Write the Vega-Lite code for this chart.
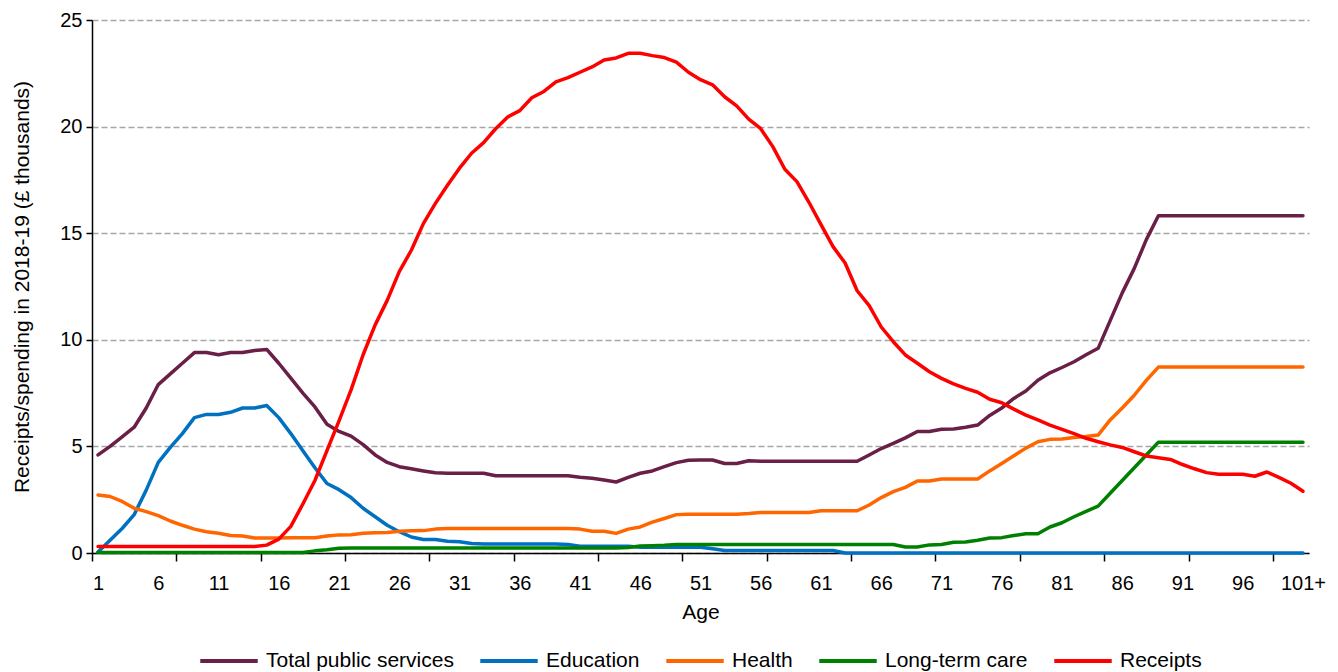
{
  "$schema": "https://vega.github.io/schema/vega-lite/v6.json",
  "width": 1217,
  "height": 533,
  "autosize": {"type": "none"},
  "padding": {"left": 92, "top": 20, "right": 29, "bottom": 119},
  "background": "white",
  "config": {
    "font": "Liberation Sans",
    "view": {"stroke": null},
    "axis": {"labelColor": "black", "titleColor": "black", "titleFontWeight": "normal", "domainColor": "black", "tickColor": "black"}
  },
  "data": {"values": [
    {"age":1,"Total public services":4.6,"Education":0.05,"Health":2.72,"Long-term care":0.02,"Receipts":0.3},
    {"age":2,"Total public services":5.0,"Education":0.6,"Health":2.65,"Long-term care":0.02,"Receipts":0.3},
    {"age":3,"Total public services":5.45,"Education":1.15,"Health":2.42,"Long-term care":0.02,"Receipts":0.3},
    {"age":4,"Total public services":5.9,"Education":1.8,"Health":2.1,"Long-term care":0.02,"Receipts":0.3},
    {"age":5,"Total public services":6.8,"Education":2.95,"Health":1.94,"Long-term care":0.02,"Receipts":0.3},
    {"age":6,"Total public services":7.9,"Education":4.25,"Health":1.75,"Long-term care":0.02,"Receipts":0.3},
    {"age":7,"Total public services":8.4,"Education":4.95,"Health":1.5,"Long-term care":0.02,"Receipts":0.3},
    {"age":8,"Total public services":8.9,"Education":5.6,"Health":1.3,"Long-term care":0.02,"Receipts":0.3},
    {"age":9,"Total public services":9.4,"Education":6.35,"Health":1.12,"Long-term care":0.02,"Receipts":0.3},
    {"age":10,"Total public services":9.4,"Education":6.5,"Health":1.0,"Long-term care":0.02,"Receipts":0.3},
    {"age":11,"Total public services":9.3,"Education":6.5,"Health":0.93,"Long-term care":0.02,"Receipts":0.3},
    {"age":12,"Total public services":9.4,"Education":6.6,"Health":0.82,"Long-term care":0.02,"Receipts":0.3},
    {"age":13,"Total public services":9.4,"Education":6.8,"Health":0.8,"Long-term care":0.02,"Receipts":0.3},
    {"age":14,"Total public services":9.5,"Education":6.8,"Health":0.7,"Long-term care":0.02,"Receipts":0.3},
    {"age":15,"Total public services":9.55,"Education":6.92,"Health":0.7,"Long-term care":0.02,"Receipts":0.37},
    {"age":16,"Total public services":8.9,"Education":6.35,"Health":0.7,"Long-term care":0.02,"Receipts":0.65},
    {"age":17,"Total public services":8.2,"Education":5.6,"Health":0.72,"Long-term care":0.02,"Receipts":1.25},
    {"age":18,"Total public services":7.5,"Education":4.8,"Health":0.72,"Long-term care":0.02,"Receipts":2.3},
    {"age":19,"Total public services":6.85,"Education":4.0,"Health":0.72,"Long-term care":0.1,"Receipts":3.4},
    {"age":20,"Total public services":6.04,"Education":3.26,"Health":0.8,"Long-term care":0.15,"Receipts":4.8},
    {"age":21,"Total public services":5.7,"Education":2.97,"Health":0.85,"Long-term care":0.22,"Receipts":6.2},
    {"age":22,"Total public services":5.48,"Education":2.6,"Health":0.86,"Long-term care":0.24,"Receipts":7.65},
    {"age":23,"Total public services":5.08,"Education":2.1,"Health":0.93,"Long-term care":0.24,"Receipts":9.3},
    {"age":24,"Total public services":4.6,"Education":1.7,"Health":0.95,"Long-term care":0.24,"Receipts":10.7},
    {"age":25,"Total public services":4.25,"Education":1.3,"Health":0.96,"Long-term care":0.24,"Receipts":11.85},
    {"age":26,"Total public services":4.05,"Education":1.0,"Health":1.02,"Long-term care":0.24,"Receipts":13.2},
    {"age":27,"Total public services":3.95,"Education":0.75,"Health":1.04,"Long-term care":0.24,"Receipts":14.2},
    {"age":28,"Total public services":3.85,"Education":0.63,"Health":1.05,"Long-term care":0.24,"Receipts":15.45},
    {"age":29,"Total public services":3.76,"Education":0.63,"Health":1.12,"Long-term care":0.24,"Receipts":16.4},
    {"age":30,"Total public services":3.74,"Education":0.55,"Health":1.15,"Long-term care":0.24,"Receipts":17.25},
    {"age":31,"Total public services":3.74,"Education":0.53,"Health":1.15,"Long-term care":0.24,"Receipts":18.05},
    {"age":32,"Total public services":3.74,"Education":0.45,"Health":1.15,"Long-term care":0.24,"Receipts":18.75},
    {"age":33,"Total public services":3.74,"Education":0.42,"Health":1.15,"Long-term care":0.24,"Receipts":19.25},
    {"age":34,"Total public services":3.62,"Education":0.42,"Health":1.15,"Long-term care":0.24,"Receipts":19.9},
    {"age":35,"Total public services":3.62,"Education":0.42,"Health":1.15,"Long-term care":0.24,"Receipts":20.45},
    {"age":36,"Total public services":3.62,"Education":0.42,"Health":1.15,"Long-term care":0.24,"Receipts":20.75},
    {"age":37,"Total public services":3.62,"Education":0.42,"Health":1.15,"Long-term care":0.24,"Receipts":21.35},
    {"age":38,"Total public services":3.62,"Education":0.42,"Health":1.15,"Long-term care":0.24,"Receipts":21.65},
    {"age":39,"Total public services":3.62,"Education":0.42,"Health":1.15,"Long-term care":0.24,"Receipts":22.1},
    {"age":40,"Total public services":3.62,"Education":0.4,"Health":1.15,"Long-term care":0.24,"Receipts":22.3},
    {"age":41,"Total public services":3.55,"Education":0.32,"Health":1.12,"Long-term care":0.24,"Receipts":22.55},
    {"age":42,"Total public services":3.51,"Education":0.32,"Health":1.02,"Long-term care":0.24,"Receipts":22.8},
    {"age":43,"Total public services":3.42,"Education":0.32,"Health":1.02,"Long-term care":0.24,"Receipts":23.12},
    {"age":44,"Total public services":3.33,"Education":0.32,"Health":0.92,"Long-term care":0.24,"Receipts":23.22},
    {"age":45,"Total public services":3.55,"Education":0.32,"Health":1.12,"Long-term care":0.26,"Receipts":23.44},
    {"age":46,"Total public services":3.74,"Education":0.27,"Health":1.22,"Long-term care":0.33,"Receipts":23.44},
    {"age":47,"Total public services":3.85,"Education":0.27,"Health":1.45,"Long-term care":0.34,"Receipts":23.33},
    {"age":48,"Total public services":4.05,"Education":0.27,"Health":1.62,"Long-term care":0.36,"Receipts":23.24},
    {"age":49,"Total public services":4.24,"Education":0.27,"Health":1.8,"Long-term care":0.4,"Receipts":23.02},
    {"age":50,"Total public services":4.35,"Education":0.27,"Health":1.82,"Long-term care":0.4,"Receipts":22.55},
    {"age":51,"Total public services":4.36,"Education":0.27,"Health":1.82,"Long-term care":0.4,"Receipts":22.2},
    {"age":52,"Total public services":4.36,"Education":0.2,"Health":1.82,"Long-term care":0.4,"Receipts":21.96},
    {"age":53,"Total public services":4.2,"Education":0.12,"Health":1.82,"Long-term care":0.4,"Receipts":21.4},
    {"age":54,"Total public services":4.2,"Education":0.12,"Health":1.82,"Long-term care":0.4,"Receipts":20.97},
    {"age":55,"Total public services":4.33,"Education":0.12,"Health":1.85,"Long-term care":0.4,"Receipts":20.35},
    {"age":56,"Total public services":4.3,"Education":0.12,"Health":1.9,"Long-term care":0.4,"Receipts":19.9},
    {"age":57,"Total public services":4.3,"Education":0.12,"Health":1.9,"Long-term care":0.4,"Receipts":19.06},
    {"age":58,"Total public services":4.3,"Education":0.12,"Health":1.9,"Long-term care":0.4,"Receipts":18.0},
    {"age":59,"Total public services":4.3,"Education":0.12,"Health":1.9,"Long-term care":0.4,"Receipts":17.42},
    {"age":60,"Total public services":4.3,"Education":0.12,"Health":1.9,"Long-term care":0.4,"Receipts":16.45},
    {"age":61,"Total public services":4.3,"Education":0.12,"Health":1.98,"Long-term care":0.4,"Receipts":15.4},
    {"age":62,"Total public services":4.3,"Education":0.12,"Health":1.98,"Long-term care":0.4,"Receipts":14.37},
    {"age":63,"Total public services":4.3,"Education":0.0,"Health":1.98,"Long-term care":0.4,"Receipts":13.6},
    {"age":64,"Total public services":4.3,"Education":0.0,"Health":1.98,"Long-term care":0.4,"Receipts":12.3},
    {"age":65,"Total public services":4.6,"Education":0.0,"Health":2.25,"Long-term care":0.4,"Receipts":11.6},
    {"age":66,"Total public services":4.9,"Education":0.0,"Health":2.6,"Long-term care":0.4,"Receipts":10.6},
    {"age":67,"Total public services":5.14,"Education":0.0,"Health":2.88,"Long-term care":0.4,"Receipts":9.91},
    {"age":68,"Total public services":5.4,"Education":0.0,"Health":3.08,"Long-term care":0.28,"Receipts":9.29},
    {"age":69,"Total public services":5.7,"Education":0.0,"Health":3.38,"Long-term care":0.28,"Receipts":8.9},
    {"age":70,"Total public services":5.7,"Education":0.0,"Health":3.38,"Long-term care":0.38,"Receipts":8.5},
    {"age":71,"Total public services":5.8,"Education":0.0,"Health":3.47,"Long-term care":0.4,"Receipts":8.19},
    {"age":72,"Total public services":5.82,"Education":0.0,"Health":3.47,"Long-term care":0.5,"Receipts":7.93},
    {"age":73,"Total public services":5.9,"Education":0.0,"Health":3.47,"Long-term care":0.52,"Receipts":7.72},
    {"age":74,"Total public services":6.0,"Education":0.0,"Health":3.47,"Long-term care":0.6,"Receipts":7.54},
    {"age":75,"Total public services":6.45,"Education":0.0,"Health":3.85,"Long-term care":0.7,"Receipts":7.21},
    {"age":76,"Total public services":6.8,"Education":0.0,"Health":4.2,"Long-term care":0.72,"Receipts":7.05},
    {"age":77,"Total public services":7.25,"Education":0.0,"Health":4.56,"Long-term care":0.82,"Receipts":6.75},
    {"age":78,"Total public services":7.6,"Education":0.0,"Health":4.92,"Long-term care":0.9,"Receipts":6.47},
    {"age":79,"Total public services":8.1,"Education":0.0,"Health":5.22,"Long-term care":0.9,"Receipts":6.24},
    {"age":80,"Total public services":8.45,"Education":0.0,"Health":5.33,"Long-term care":1.22,"Receipts":6.0},
    {"age":81,"Total public services":8.7,"Education":0.0,"Health":5.35,"Long-term care":1.42,"Receipts":5.8},
    {"age":82,"Total public services":8.97,"Education":0.0,"Health":5.42,"Long-term care":1.7,"Receipts":5.6},
    {"age":83,"Total public services":9.3,"Education":0.0,"Health":5.46,"Long-term care":1.95,"Receipts":5.38},
    {"age":84,"Total public services":9.6,"Education":0.0,"Health":5.53,"Long-term care":2.2,"Receipts":5.22},
    {"age":85,"Total public services":10.9,"Education":0.0,"Health":6.24,"Long-term care":2.8,"Receipts":5.07},
    {"age":86,"Total public services":12.2,"Education":0.0,"Health":6.8,"Long-term care":3.4,"Receipts":4.95},
    {"age":87,"Total public services":13.35,"Education":0.0,"Health":7.4,"Long-term care":4.0,"Receipts":4.75},
    {"age":88,"Total public services":14.7,"Education":0.0,"Health":8.1,"Long-term care":4.6,"Receipts":4.55},
    {"age":89,"Total public services":15.82,"Education":0.0,"Health":8.72,"Long-term care":5.2,"Receipts":4.47},
    {"age":90,"Total public services":15.82,"Education":0.0,"Health":8.72,"Long-term care":5.2,"Receipts":4.39},
    {"age":91,"Total public services":15.82,"Education":0.0,"Health":8.72,"Long-term care":5.2,"Receipts":4.15},
    {"age":92,"Total public services":15.82,"Education":0.0,"Health":8.72,"Long-term care":5.2,"Receipts":3.95},
    {"age":93,"Total public services":15.82,"Education":0.0,"Health":8.72,"Long-term care":5.2,"Receipts":3.77},
    {"age":94,"Total public services":15.82,"Education":0.0,"Health":8.72,"Long-term care":5.2,"Receipts":3.69},
    {"age":95,"Total public services":15.82,"Education":0.0,"Health":8.72,"Long-term care":5.2,"Receipts":3.69},
    {"age":96,"Total public services":15.82,"Education":0.0,"Health":8.72,"Long-term care":5.2,"Receipts":3.69},
    {"age":97,"Total public services":15.82,"Education":0.0,"Health":8.72,"Long-term care":5.2,"Receipts":3.6},
    {"age":98,"Total public services":15.82,"Education":0.0,"Health":8.72,"Long-term care":5.2,"Receipts":3.8},
    {"age":99,"Total public services":15.82,"Education":0.0,"Health":8.72,"Long-term care":5.2,"Receipts":3.55},
    {"age":100,"Total public services":15.82,"Education":0.0,"Health":8.72,"Long-term care":5.2,"Receipts":3.27},
    {"age":101,"Total public services":15.82,"Education":0.0,"Health":8.72,"Long-term care":5.2,"Receipts":2.9}
  ]},
  "transform": [
    {"fold": ["Total public services", "Education", "Health", "Long-term care", "Receipts"], "as": ["series", "value"]}
  ],
  "layer": [
    {
      "mark": {"type": "line", "strokeWidth": 3.5, "strokeJoin": "round", "strokeCap": "round"},
      "encoding": {
        "x": {
          "field": "age", "type": "quantitative",
          "scale": {"domain": [0.5, 101.5], "nice": false, "zero": false},
          "axis": {
            "orient": "bottom",
            "values": [1, 6, 11, 16, 21, 26, 31, 36, 41, 46, 51, 56, 61, 66, 71, 76, 81, 86, 91, 96, 101],
            "labelExpr": "datum.value == 101 ? '101+' : datum.label",
            "ticks": false, "grid": false,
            "domainWidth": 1.5,
            "labelFontSize": 20, "labelPadding": 20, "labelFlush": false, "labelOverlap": false,
            "title": "Age", "titleFontSize": 21, "titlePadding": 8
          }
        },
        "y": {
          "field": "value", "type": "quantitative",
          "scale": {"domain": [0, 25], "nice": false},
          "axis": {
            "values": [0, 5, 10, 15, 20, 25], "format": "d",
            "grid": true, "gridDash": [6, 3], "gridColor": "#A6A6A6", "gridWidth": 1.3,
            "domainWidth": 1.5, "tickSize": 6, "tickWidth": 1.5,
            "labelFontSize": 20, "labelPadding": 4,
            "title": "Receipts/spending in 2018-19  (£ thousands)", "titleFontSize": 21, "titlePadding": 27
          }
        },
        "color": {
          "field": "series", "type": "nominal",
          "scale": {
            "domain": ["Total public services", "Education", "Health", "Long-term care", "Receipts"],
            "range": ["#6A1F47", "#0070C0", "#FF6600", "#008000", "#FF0000"]
          },
          "legend": {
            "orient": "none", "legendX": 106, "legendY": 610, "direction": "horizontal",
            "title": null, "padding": 0,
            "symbolType": "stroke", "symbolSize": 3300, "symbolStrokeWidth": 4,
            "labelFontSize": 21, "labelColor": "black", "labelOffset": 6, "columnPadding": 18,
            "labelLimit": 400
          }
        }
      }
    },
    {
      "mark": {"type": "line", "opacity": 0},
      "encoding": {
        "x": {
          "field": "age", "type": "quantitative",
          "axis": {
            "orient": "bottom",
            "values": [0.5, 7.5, 14.5, 21.5, 28.5, 35.5, 42.5, 49.5, 56.5, 63.5, 70.5, 77.5, 84.5, 91.5, 98.5],
            "labels": false, "title": null, "domain": false, "grid": false,
            "tickSize": 8, "tickWidth": 1.5
          }
        },
        "y": {"field": "value", "type": "quantitative"},
        "detail": {"field": "series"}
      }
    }
  ],
  "resolve": {"axis": {"x": "independent"}}
}
